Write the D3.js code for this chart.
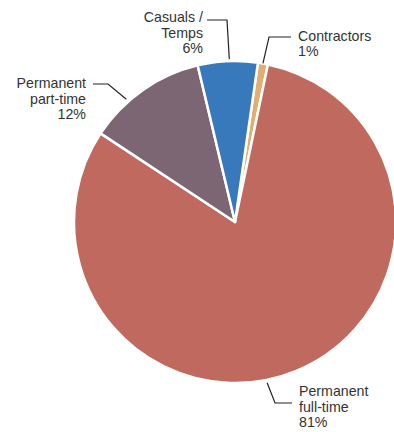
<!DOCTYPE html>
<html>
<head>
<meta charset="utf-8">
<script src="https://cdn.jsdelivr.net/npm/d3@7"></script>
<style>
  html, body { margin: 0; padding: 0; background: #fff; }
  svg { display: block; }
  text { font-family: "Liberation Sans", Arial, Helvetica, sans-serif; font-size: 14.2px; fill: #333; }
</style>
</head>
<body>
<svg id="chart" width="394" height="432"></svg>
<script>
// Workforce composition by employment type (percent)
const categories = ["Contractors", "Permanent full-time", "Permanent part-time", "Casuals / Temps"];
const shares = [1, 81, 12, 6];
const colors = ["#E3AE72", "#C06A5F", "#7D6673", "#3779BB"];
const labelLines = [
  ["Contractors", "1%"],
  ["Permanent", "full-time", "81%"],
  ["Permanent", "part-time", "12%"],
  ["Casuals /", "Temps", "6%"]
];

const width = 394, height = 432;
const cx = 235, cy = 222, radius = 161;
const startDeg = 8.2;
const rad = d => d * Math.PI / 180;

const svg = d3.select("#chart");
const g = svg.append("g").attr("transform", `translate(${cx},${cy})`);

const pie = d3.pie()
  .sort(null)
  .value(d => d)
  .startAngle(rad(startDeg))
  .endAngle(rad(startDeg + 360));

const arc = d3.arc().innerRadius(0).outerRadius(radius);
const arcs = pie(shares);

g.selectAll("path.slice")
  .data(arcs)
  .join("path")
  .attr("class", "slice")
  .attr("d", arc)
  .attr("fill", (d, i) => colors[i])
  .attr("stroke", "#fff")
  .attr("stroke-width", 2.5)
  .attr("stroke-linejoin", "round");

// Leader-line layout: angle (deg) on the rim where the line starts,
// elbow and end of the line, and where the text block sits.
const labelLayout = [
  { angle: 10.0, r: 161, elbow: [269, 37], end: [291, 37], text: [298, 40.5], anchor: "start" },
  { angle: 168.7, r: 164, elbow: [275, 403], end: [292, 403], text: [299, 396], anchor: "start" },
  { angle: 318.5, r: 164, elbow: [108, 84], end: [93, 84], text: [86, 88], anchor: "end" },
  { angle: 358.0, r: 163, elbow: [227, 20], end: [207, 20], text: [203, 22], anchor: "end" }
];

const lineGen = d3.line();
const labels = svg.append("g");

arcs.forEach((a, i) => {
  const L = labelLayout[i];
  const t = rad(L.angle);
  const start = [cx + L.r * Math.sin(t), cy - L.r * Math.cos(t)];
  labels.append("path")
    .attr("d", lineGen([start, L.elbow, L.end]))
    .attr("fill", "none")
    .attr("stroke", "#222")
    .attr("stroke-width", 1.2);

  const txt = labels.append("text")
    .attr("x", L.text[0])
    .attr("y", L.text[1])
    .attr("text-anchor", L.anchor);
  labelLines[i].forEach((s, k) => {
    txt.append("tspan")
      .attr("x", L.text[0])
      .attr("dy", k === 0 ? 0 : 15.7)
      .text(s);
  });
});
</script>
</body>
</html>
